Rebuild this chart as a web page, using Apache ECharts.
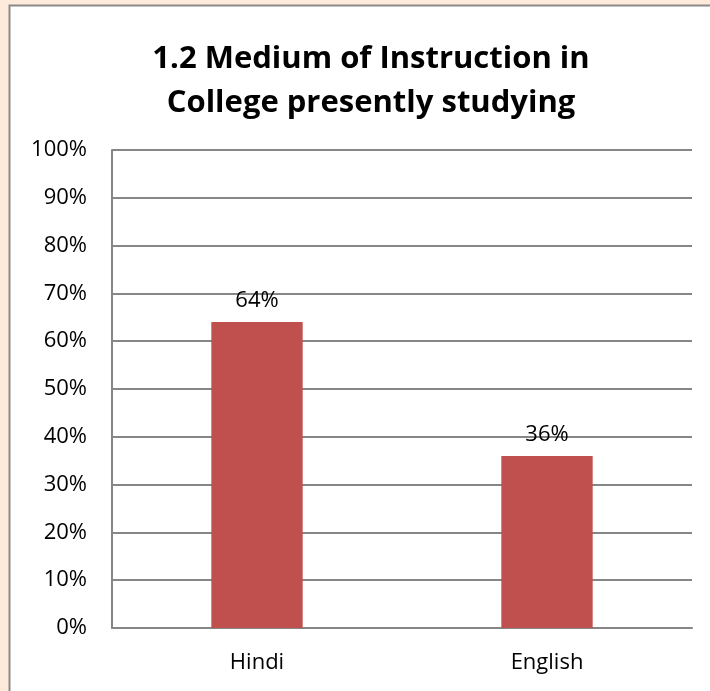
<!DOCTYPE html>
<html>
<head>
<meta charset="utf-8">
<style>
html,body{margin:0;padding:0;background:#FDEADA;}
#chart{width:710px;height:691px;}
</style>
<script src="https://cdn.jsdelivr.net/npm/echarts@6/dist/echarts.min.js"></script>
</head>
<body>
<div id="chart"></div>
<script>
const titleText = "1.2 Medium of Instruction in\nCollege presently studying";
const categories = ["Hindi", "English"];
const values = [64, 36];
const yTicks = [0, 10, 20, 30, 40, 50, 60, 70, 80, 90, 100];

const chart = echarts.init(document.getElementById('chart'));
chart.setOption({
  backgroundColor: '#FDEADA',
  animation: false,
  graphic: [{
    type: 'rect', z: -10,
    shape: {x: 9.5, y: 5.5, width: 720, height: 700},
    style: {fill: '#ffffff', stroke: '#8a8a8a', lineWidth: 2}
  }],
  title: {
    text: titleText,
    left: 366, top: 32, textAlign: 'center',
    textStyle: {fontFamily: 'Open Sans', fontWeight: 'bold', fontSize: 31, lineHeight: 44, color: '#000'}
  },
  grid: {left: 112, right: 18, top: 150, bottom: 63},
  xAxis: {
    type: 'category', data: categories,
    axisLine: {lineStyle: {color: '#868686', width: 2}},
    axisTick: {show: false},
    axisLabel: {fontFamily: 'Open Sans', fontSize: 22, color: '#000', margin: 24}
  },
  yAxis: {
    type: 'value', min: yTicks[0], max: yTicks[yTicks.length - 1], interval: 10,
    axisLine: {show: true, lineStyle: {color: '#868686', width: 2}},
    axisTick: {show: false},
    splitLine: {lineStyle: {color: '#868686', width: 2}},
    axisLabel: {fontFamily: 'Open Sans', fontSize: 22, color: '#000', margin: 25, formatter: v => v + '%'}
  },
  series: [{
    type: 'bar', data: values, barWidth: '31.5%',
    itemStyle: {color: '#C0504D'},
    label: {show: true, position: 'top', distance: 10, formatter: p => p.value + '%',
      fontFamily: 'Open Sans', fontSize: 22, color: '#000'}
  }]
});
</script>
</body>
</html>
